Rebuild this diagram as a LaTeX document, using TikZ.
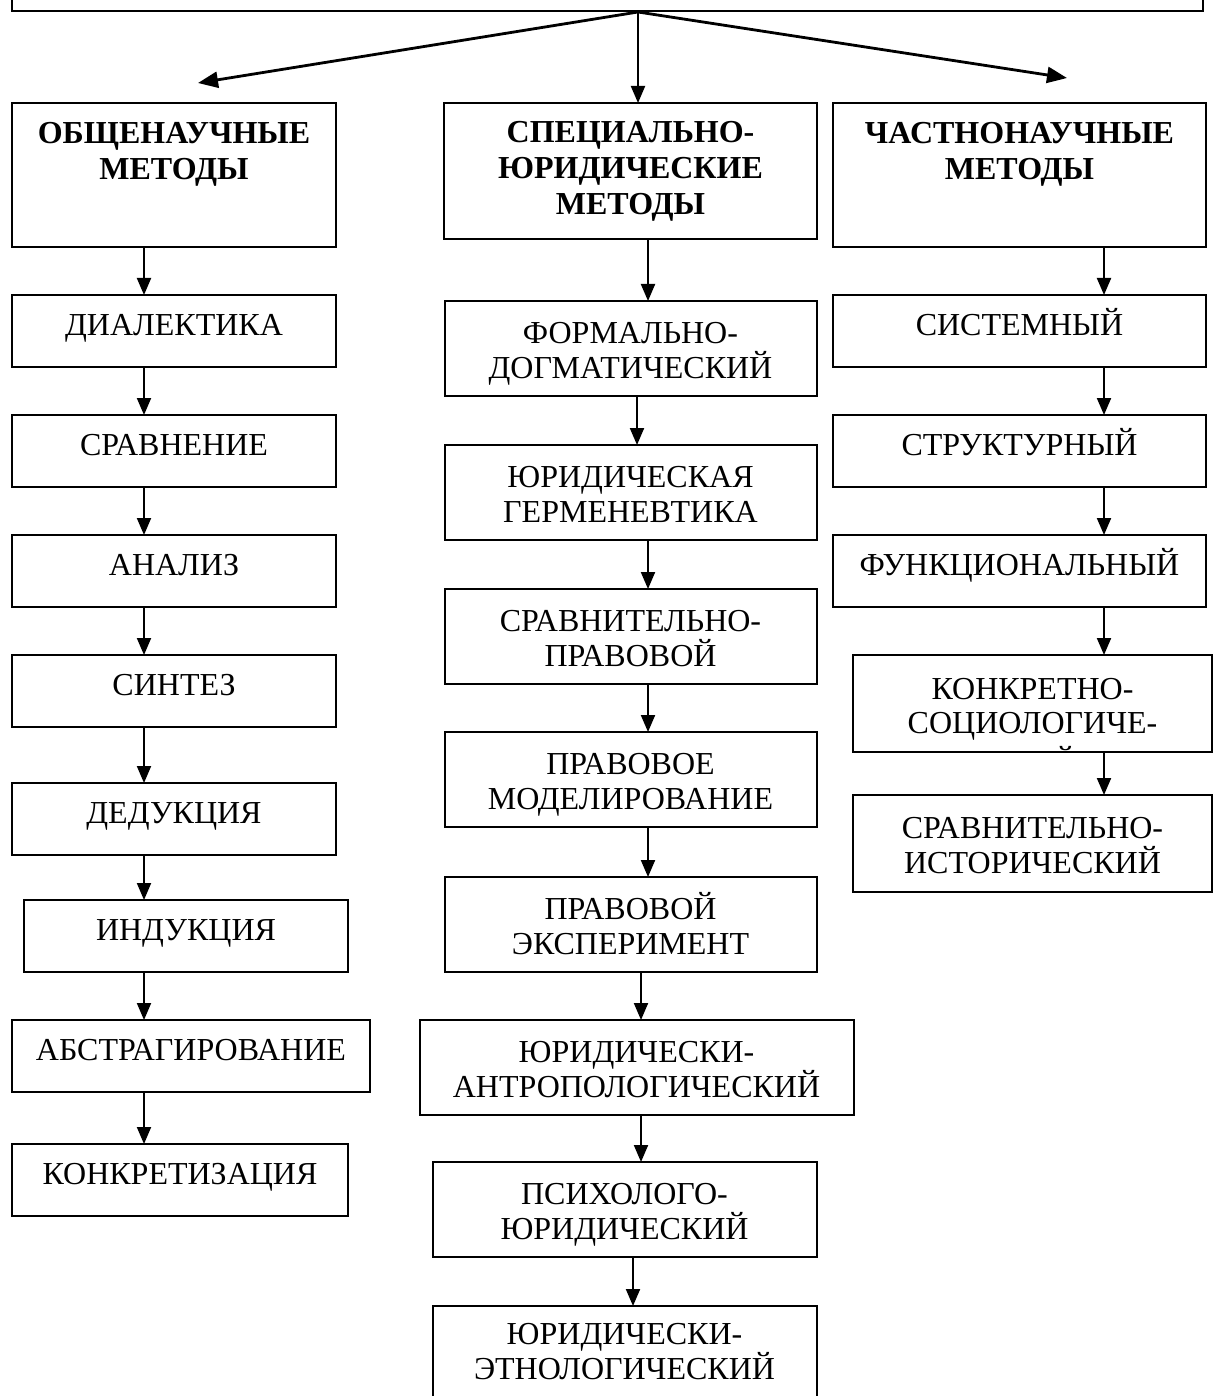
\documentclass[tikz,border=0pt]{standalone}
\usepackage{fontspec}
\setmainfont{Liberation Serif}
\usetikzlibrary{positioning,arrows.meta}

\begin{document}
\begin{tikzpicture}[x=1pt,y=1pt,
  box/.style={draw,line width=2pt,rectangle,inner sep=0pt,outer sep=0pt,align=center,font=\fontsize{32}{35}\selectfont},
  one/.style={box,minimum height=72pt,text height=22pt,text depth=14pt},
  two/.style={box,minimum height=95pt,text height=60pt,text depth=0pt},
  head/.style={box,font=\bfseries\fontsize{32}{36}\selectfont},
  arr/.style={line width=2pt,-{Triangle[length=17pt,width=14pt]}},
  fan/.style={line width=2.8pt,-{Triangle[length=20pt,width=16pt]}}]

            \useasboundingbox (0,0) rectangle (1213,-1396);
            \clip (0,0) rectangle (1213,-1396);

            \node[draw,line width=2pt,inner sep=0pt,minimum width=1191pt,minimum height=60pt,anchor=south west] (top) at (11,-12) {};
            \coordinate (split) at (638,-12);
            \coordinate (lend) at (198,-83);
            \coordinate (rend) at (1067,-78);

            \node[head,minimum width=324pt,minimum height=144pt,text depth=49pt,anchor=north] (l0) at (174,-103) {ОБЩЕНАУЧНЫЕ\\МЕТОДЫ};
            \node[head,minimum width=373pt,minimum height=136pt,anchor=north] (c0) at (630.5,-103) {СПЕЦИАЛЬНО-\\ЮРИДИЧЕСКИЕ\\МЕТОДЫ};
            \node[head,minimum width=373pt,minimum height=144pt,text depth=49pt,anchor=north] (r0) at (1019.5,-103) {ЧАСТНОНАУЧНЫЕ\\МЕТОДЫ};

            \node[one,minimum width=324pt] (l1) [below=48pt of l0] {ДИАЛЕКТИКА};
            \node[one,minimum width=324pt] (l2) [below=48pt of l1] {СРАВНЕНИЕ};
            \node[one,minimum width=324pt] (l3) [below=48pt of l2] {АНАЛИЗ};
            \node[one,minimum width=324pt] (l4) [below=48pt of l3] {СИНТЕЗ};
            \node[one,minimum width=324pt] (l5) [below=56pt of l4] {ДЕДУКЦИЯ};
            \node[one,minimum width=324pt,xshift=12pt] (l6) [below=45pt of l5] {ИНДУКЦИЯ};
            \node[one,minimum width=358pt,xshift=5pt] (l7) [below=48pt of l6] {АБСТРАГИРОВАНИЕ};
            \node[one,minimum width=336pt,xshift=-11pt] (l8) [below=52pt of l7] {КОНКРЕТИЗАЦИЯ};

            \node[two,minimum width=372pt] (c1) [below=62pt of c0] {ФОРМАЛЬНО-\\ДОГМАТИЧЕСКИЙ};
            \node[two,minimum width=372pt] (c2) [below=49pt of c1] {ЮРИДИЧЕСКАЯ\\ГЕРМЕНЕВТИКА};
            \node[two,minimum width=372pt] (c3) [below=49pt of c2] {СРАВНИТЕЛЬНО-\\ПРАВОВОЙ};
            \node[two,minimum width=372pt] (c4) [below=48pt of c3] {ПРАВОВОЕ\\МОДЕЛИРОВАНИЕ};
            \node[two,minimum width=372pt] (c5) [below=50pt of c4] {ПРАВОВОЙ\\ЭКСПЕРИМЕНТ};
            \node[two,minimum width=434pt,xshift=6pt] (c6) [below=48pt of c5] {ЮРИДИЧЕСКИ-\\АНТРОПОЛОГИЧЕСКИЙ};
            \node[two,minimum width=384pt,xshift=-12pt] (c7) [below=47pt of c6] {ПСИХОЛОГО-\\ЮРИДИЧЕСКИЙ};
            \node[box,minimum width=384pt,minimum height=105pt,text depth=14pt] (c8) [below=49pt of c7] {ЮРИДИЧЕСКИ-\\ЭТНОЛОГИЧЕСКИЙ};

            \node[one,minimum width=373pt] (r1) [below=48pt of r0] {СИСТЕМНЫЙ};
            \node[one,minimum width=373pt] (r2) [below=48pt of r1] {СТРУКТУРНЫЙ};
            \node[one,minimum width=373pt] (r3) [below=48pt of r2] {ФУНКЦИОНАЛЬНЫЙ};
            \node[box,minimum width=359pt,minimum height=97pt,xshift=13pt] (r4) [below=48pt of r3] {};
            \node[two,minimum width=359pt,minimum height=97pt] (r5) [below=43pt of r4] {СРАВНИТЕЛЬНО-\\ИСТОРИЧЕСКИЙ};

            \begin{scope}
            \clip ([shift={(1pt,1pt)}]r4.south west) rectangle ([shift={(-1pt,-1pt)}]r4.north east);
            \node[inner sep=0pt,align=center,font=\fontsize{32}{34}\selectfont,anchor=north] (r4t) at ([yshift=-23pt]r4.north) {КОНКРЕТНО-\\СОЦИОЛОГИЧЕ-\\[6pt]СКИЙ};
            \end{scope}

            \draw[fan] (split) -- (lend);
            \draw[arr] (split) -- (split |- c0.north);
            \draw[fan] (split) -- (rend);

            \coordinate (lx) at (144,0);
            \foreach \a/\b in {l0/l1,l1/l2,l2/l3,l3/l4,l4/l5,l5/l6,l6/l7,l7/l8}
              \draw[arr] (\a.south -| lx) -- (\b.north -| lx);

            \foreach \a/\b/\x in {c0/c1/648,c1/c2/637,c2/c3/648,c3/c4/648,c4/c5/648,c5/c6/641,c6/c7/641,c7/c8/633}
              \draw[arr] (\a.south -| \x,0) -- (\b.north -| \x,0);

            \coordinate (rx) at (1104,0);
            \foreach \a/\b in {r0/r1,r1/r2,r2/r3,r3/r4,r4/r5}
              \draw[arr] (\a.south -| rx) -- (\b.north -| rx);

        \end{tikzpicture}
\end{document}
